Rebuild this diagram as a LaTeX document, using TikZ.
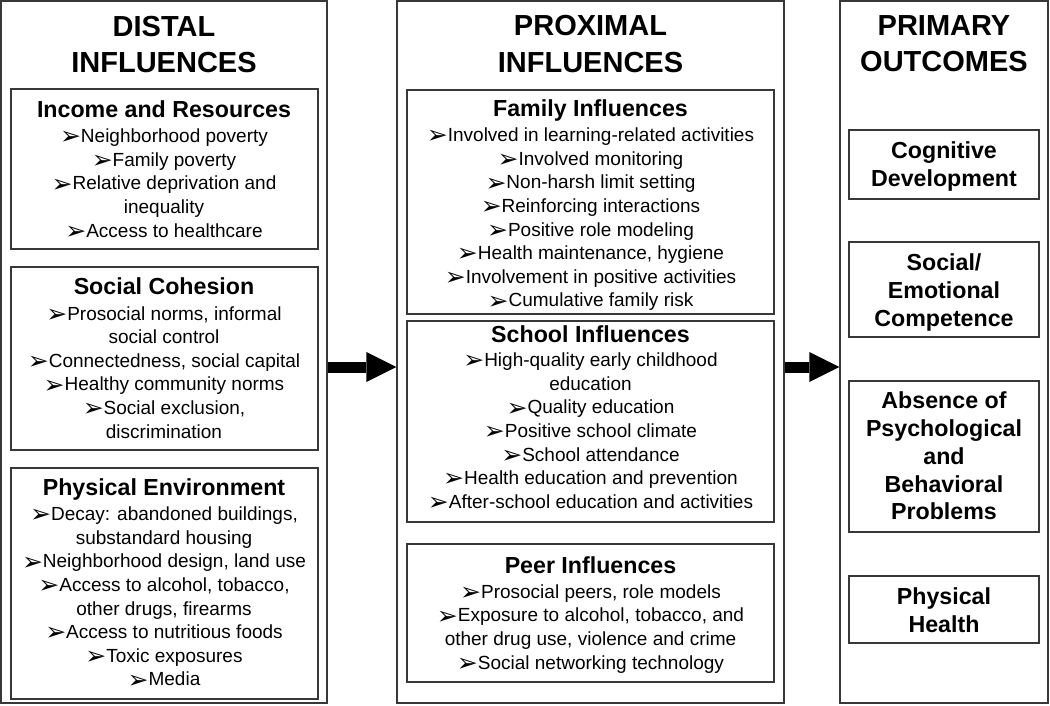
\documentclass[tikz,border=0pt]{standalone}
\usepackage{fontspec}
\setmainfont{Liberation Sans}
\newfontfamily\dvfont{DejaVu Sans}
\usetikzlibrary{arrows.meta}
\newcommand\bul{\raisebox{-2.2pt}{\dvfont\fontsize{25}{25}\selectfont ➢}}
\newcommand\txtlines[6]{%
  \foreach \t [count=\i from 0] in {#6} {\node[#2] (#1\i) at (#3,{#4+\i*#5}) {\t};}}
\tikzset{
  box/.style={draw=black!78, line width=1.3pt, inner sep=0pt},
  headtxt/.style={font=\bfseries\fontsize{29}{29}\selectfont, anchor=base, inner sep=0pt},
  subtxt/.style={font=\bfseries\fontsize{23.2}{23.2}\selectfont, anchor=base, inner sep=0pt},
  itemtxt/.style={font=\fontsize{19}{19}\selectfont, anchor=base, inner sep=0pt},
  bigarrow/.style={line width=11pt, -{Triangle[length=30pt,width=30pt,line width=0pt]}},
}
\begin{document}
\begin{tikzpicture}[x=1pt,y=-1pt]
\fill[white] (0,0) rectangle (1050,705);
\useasboundingbox (0,0) rectangle (1050,705);
% outer columns
\node[box, minimum width=326pt, minimum height=702pt] (leftO) at (164,352) {};
\node[box, minimum width=387pt, minimum height=702pt] (midO) at (590.5,352) {};
\node[box, minimum width=208pt, minimum height=702pt] (rightO) at (944,352) {};
% left inner boxes
\node[box, minimum width=307pt, minimum height=160pt] (income) at (164.5,169) {};
\node[box, minimum width=307pt, minimum height=183pt] (social) at (164.5,358.5) {};
\node[box, minimum width=307pt, minimum height=231pt] (phys) at (164.5,583.5) {};
% middle inner boxes
\node[box, minimum width=367pt, minimum height=224pt] (family) at (590.5,202) {};
\node[box, minimum width=367pt, minimum height=201pt] (school) at (590.5,421.5) {};
\node[box, minimum width=367pt, minimum height=138pt] (peer) at (590.5,613) {};
% right inner boxes
\node[box, minimum width=190pt, minimum height=69pt] (cog) at (944,164.5) {};
\node[box, minimum width=190pt, minimum height=95pt] (soc) at (944,289.5) {};
\node[box, minimum width=190pt, minimum height=151pt] (abs) at (944,456.5) {};
\node[box, minimum width=190pt, minimum height=67pt] (phh) at (944,609.5) {};

% headings
\txtlines{hl}{headtxt}{164}{36}{36}{DISTAL,INFLUENCES}
\txtlines{hm}{headtxt}{590.5}{35.7}{36.5}{PROXIMAL,INFLUENCES}
\txtlines{hr}{headtxt}{944}{35.7}{36}{PRIMARY,OUTCOMES}

% left column
\node[subtxt] (incT) at (164,117.7) {Income and Resources};
\txtlines{inc}{itemtxt}{164}{142.7}{23.6}{\bul Neighborhood poverty,\bul Family poverty,\bul Relative deprivation and,inequality,\bul Access to healthcare}
\node[subtxt] (socT) at (164,294) {Social Cohesion};
\txtlines{soc}{itemtxt}{164}{320}{23.6}{{\bul Prosocial norms, informal},social control,{\bul Connectedness, social capital},\bul Healthy community norms,{\bul Social exclusion,},discrimination}
\node[subtxt] (phyT) at (164,495) {Physical Environment};
\txtlines{phy}{itemtxt}{164}{520.7}{23.6}{{\bul Decay: abandoned buildings,},substandard housing,{\bul Neighborhood design, land use},{\bul Access to alcohol, tobacco,},{other drugs, firearms},\bul Access to nutritious foods,\bul Toxic exposures,\bul Media}

% middle column
\node[subtxt] (famT) at (590.5,116.7) {Family Influences};
\txtlines{fam}{itemtxt}{590.5}{141.7}{23.6}{\bul Involved in learning-related activities,\bul Involved monitoring,\bul Non-harsh limit setting,\bul Reinforcing interactions,\bul Positive role modeling,{\bul Health maintenance, hygiene},\bul Involvement in positive activities,\bul Cumulative family risk}
\node[subtxt] (schT) at (590.5,342.7) {School Influences};
\txtlines{sch}{itemtxt}{590.5}{366.7}{23.6}{\bul High-quality early childhood,education,\bul Quality education,\bul Positive school climate,\bul School attendance,\bul Health education and prevention,\bul After-school education and activities}
\node[subtxt] (peeT) at (590.5,573.3) {Peer Influences};
\txtlines{pee}{itemtxt}{590.5}{598.3}{23.6}{{\bul Prosocial peers, role models},{\bul Exposure to alcohol, tobacco, and},{other drug use, violence and crime},\bul Social networking technology}

% right column
\txtlines{cogT}{subtxt}{944}{158}{28}{Cognitive,Development}
\txtlines{socT}{subtxt}{944}{270}{28}{Social/,Emotional,Competence}
\txtlines{absT}{subtxt}{944}{408.3}{27.9}{Absence of,Psychological,and,Behavioral,Problems}
\txtlines{phhT}{subtxt}{944}{604.3}{28}{Physical,Health}

% arrows
\coordinate (ay) at (0,367);
\draw[bigarrow] (leftO.east |- ay) -- (midO.west |- ay);
\draw[bigarrow] (midO.east |- ay) -- (rightO.west |- ay);
\end{tikzpicture}
\end{document}
